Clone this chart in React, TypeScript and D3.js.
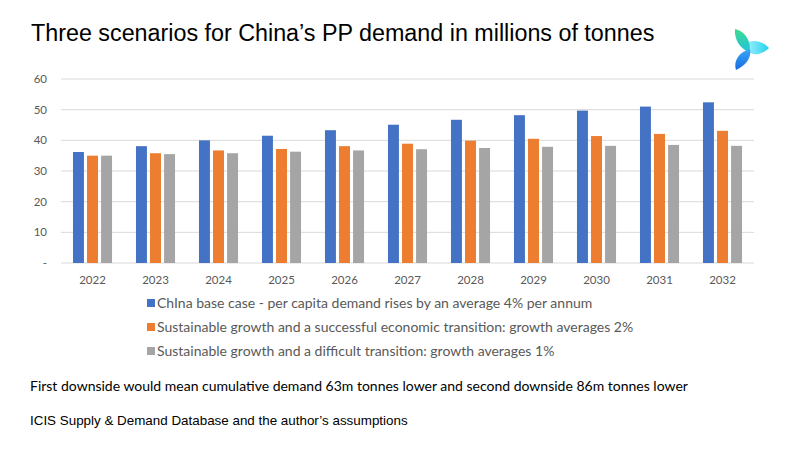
import * as d3 from 'd3'

const years = ['2022', '2023', '2024', '2025', '2026', '2027', '2028', '2029', '2030', '2031', '2032']
const baseCase = [36.2, 38.1, 40.0, 41.5, 43.3, 45.1, 46.7, 48.2, 49.7, 51.0, 52.4]
const successful = [35.0, 35.8, 36.7, 37.2, 38.1, 38.9, 39.9, 40.5, 41.4, 42.1, 43.1]
const difficult = [35.0, 35.5, 35.8, 36.3, 36.7, 37.1, 37.5, 37.9, 38.2, 38.5, 38.2]
const yTicks = [0, 10, 20, 30, 40, 50, 60]

const seriesNames = [
  'ChIna base case - per capita demand rises by an average 4% per annum',
  'Sustainable growth and a successful economic transition: growth averages 2%',
  'Sustainable growth and a difficult transition: growth averages 1%',
]
const colors = ['#4472c4', '#ed7d31', '#a5a5a5']
const series = [baseCase, successful, difficult]

const W = 800, H = 450
const plot = { left: 61, right: 754, top: 79, bottom: 263 }

export default function App() {
  const x = d3.scaleBand(years, [plot.left, plot.right]).paddingInner(0.38).paddingOuter(0.19)
  const x1 = d3.scaleBand([0, 1, 2], [0, x.bandwidth()]).paddingInner(0.22)
  const y = d3.scaleLinear([0, 60], [plot.bottom, plot.top])
  const fontC = 'Lato, "Open Sans", sans-serif'

  return (
    <svg width={W} height={H} viewBox={`0 0 ${W} ${H}`}
      style={{ position: 'absolute', left: 0, top: 0, background: '#fff' }}>
      <defs>
        <linearGradient id="lg1" x1="0" y1="0" x2="0" y2="1">
          <stop offset="0%" stopColor="#3ddc8c" />
          <stop offset="100%" stopColor="#22c2e0" />
        </linearGradient>
        <linearGradient id="lg2" x1="0" y1="0" x2="1" y2="0">
          <stop offset="0%" stopColor="#b8f3ff" />
          <stop offset="100%" stopColor="#22d3ee" />
        </linearGradient>
        <linearGradient id="lg3" x1="0" y1="0" x2="0" y2="1">
          <stop offset="0%" stopColor="#38a8f5" />
          <stop offset="100%" stopColor="#1a6be0" />
        </linearGradient>
      </defs>

      <text x={31} y={41} fontFamily='"Liberation Sans", Arial, sans-serif' fontSize={23.3} fill="#000">
        Three scenarios for China’s PP demand in millions of tonnes
      </text>

      {/* logo */}
      <g>
        <path d="M 742 46 C 750 38, 762 40, 769 48 C 761 56, 750 57, 742 46 Z" fill="url(#lg2)" />
        <path d="M 735 29 C 745 31, 752 42, 749 52 C 740 49, 734 39, 735 29 Z" fill="url(#lg1)" />
        <path d="M 750 49 C 752 58, 745 66, 736 70 C 733 61, 739 52, 750 49 Z" fill="url(#lg3)" />
      </g>

      {/* gridlines */}
      {yTicks.map(t => (
        <g key={t}>
          <line x1={plot.left} x2={plot.right} y1={y(t)} y2={y(t)} stroke="#d9d9d9" strokeWidth={1} />
          <text x={47} y={y(t) + 4} textAnchor="end" fontFamily={fontC} fontSize={11.5} fill="#595959">
            {t === 0 ? '-' : t}
          </text>
        </g>
      ))}

      {/* bars */}
      {years.map((yr, i) => (
        <g key={yr} transform={`translate(${x(yr)},0)`}>
          {series.map((s, j) => (
            <rect key={j} x={x1(j)} y={y(s[i])} width={x1.bandwidth()} height={plot.bottom - y(s[i])}
              fill={colors[j]} />
          ))}
          <text x={x.bandwidth() / 2} y={284} textAnchor="middle" fontFamily={fontC} fontSize={11.5} fill="#595959">
            {yr}
          </text>
        </g>
      ))}

      {/* legend */}
      {seriesNames.map((n, j) => (
        <g key={n} transform={`translate(147,${303 + j * 24})`}>
          <rect x={0} y={-4} width={8} height={8} fill={colors[j]} />
          <text x={10} y={5} fontFamily={fontC} fontSize={14} fill="#595959">{n}</text>
        </g>
      ))}

      <text x={30} y={391} fontFamily={fontC} fontSize={14} fill="#000">
        First downside would mean cumulative demand 63m tonnes lower and second downside 86m tonnes lower
      </text>
      <text x={30} y={425} fontFamily='"Liberation Sans", Arial, sans-serif' fontSize={13.4} fill="#000">
        ICIS Supply &amp; Demand Database and the author’s assumptions
      </text>
    </svg>
  )
}
